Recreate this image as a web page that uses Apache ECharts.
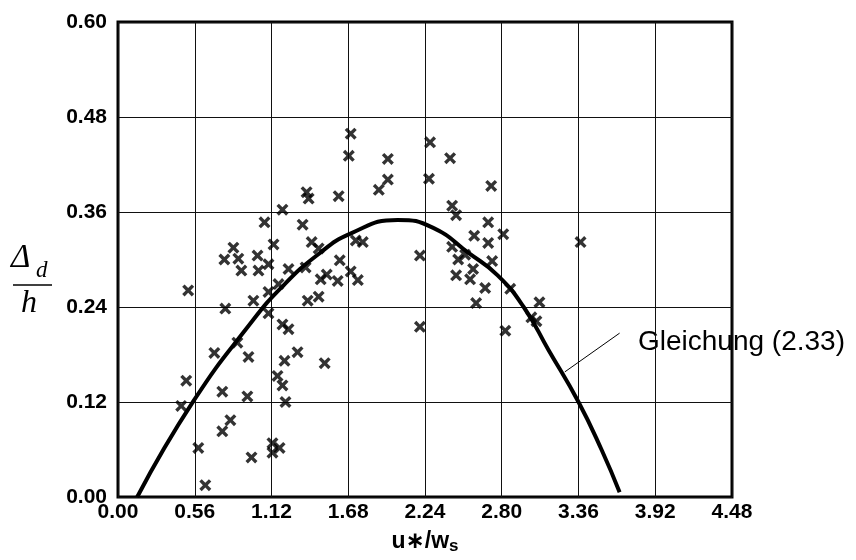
<!DOCTYPE html>
<html>
<head>
<meta charset="utf-8">
<script src="https://cdn.jsdelivr.net/npm/echarts@6/dist/echarts.min.js"></script>
<style>
html,body{margin:0;padding:0;background:#fff;}
#chart{width:856px;height:560px;}
</style>
</head>
<body>
<div id="chart"></div>
<script>
// Tick labels
var xTickLabels = ['0.00','0.56','1.12','1.68','2.24','2.80','3.36','3.92','4.48'];
var yTickLabels = ['0.00','0.12','0.24','0.36','0.48','0.60'];

// Measured points (u*/ws, Δd/h)
var pointsX = [0.637,0.586,0.974,1.127,1.179,1.127,0.761,0.820,0.461,1.222,0.944,0.761,0.498,1.164,1.200,0.703,0.952,0.871,1.310,1.215,1.508,1.098,1.200,1.244,0.783,0.988,0.512,1.098,1.171,1.384,1.464,1.479,1.523,1.603,1.698,1.750,1.618,1.025,1.098,1.244,1.369,0.900,0.776,0.878,0.842,1.018,1.135,1.069,1.200,1.347,1.413,1.464,1.735,1.786,1.376,1.391,1.610,1.698,1.684,1.969,1.969,1.903,2.277,2.423,2.269,2.723,2.438,2.467,2.203,2.203,2.599,2.701,2.701,2.811,2.438,2.482,2.533,2.591,2.467,2.569,2.679,2.613,2.730,2.862,3.075,3.016,3.053,2.826,3.375];
var pointsY = [0.015,0.062,0.050,0.068,0.062,0.056,0.083,0.097,0.115,0.120,0.127,0.133,0.147,0.153,0.141,0.182,0.177,0.195,0.183,0.172,0.169,0.232,0.218,0.212,0.238,0.248,0.261,0.259,0.269,0.248,0.253,0.275,0.281,0.273,0.285,0.274,0.299,0.286,0.294,0.288,0.290,0.286,0.300,0.301,0.315,0.305,0.319,0.347,0.363,0.344,0.322,0.314,0.324,0.322,0.385,0.377,0.380,0.459,0.431,0.427,0.401,0.388,0.448,0.428,0.402,0.393,0.368,0.356,0.305,0.215,0.330,0.347,0.321,0.332,0.316,0.300,0.306,0.288,0.280,0.275,0.264,0.245,0.298,0.263,0.246,0.227,0.222,0.210,0.322];

// Curve "Gleichung (2.33)"
var curveX = [0.14,0.55,0.97,1.20,1.45,1.70,2.04,2.30,2.56,2.77,2.96,3.14,3.36,3.53,3.66];
var curveY = [0.000,0.121,0.220,0.266,0.305,0.333,0.350,0.340,0.308,0.280,0.240,0.186,0.120,0.059,0.006];

// Leader line of the annotation
var leaderX = [3.26, 3.66];
var leaderY = [0.158, 0.207];
var annotationText = 'Gleichung (2.33)';

var scatterData = pointsX.map(function(x,i){return [x, pointsY[i]];});
var curveData = curveX.map(function(x,i){return [x, curveY[i]];});

var crossPath = 'path://M0,2L2,0L5,3L8,0L10,2L7,5L10,8L8,10L5,7L2,10L0,8L3,5Z';
var tickFont = {fontFamily:'Liberation Sans, Arial, sans-serif', fontSize:21, fontWeight:'bold', color:'#000'};

var chart = echarts.init(document.getElementById('chart'), null, {renderer:'canvas'});
var xStep = parseFloat(xTickLabels[1]) - parseFloat(xTickLabels[0]);
var yStep = parseFloat(yTickLabels[1]) - parseFloat(yTickLabels[0]);

chart.setOption({
  animation:false,
  backgroundColor:'#fff',
  grid:{left:118,right:124,top:22,bottom:56,show:true,borderColor:'#000',borderWidth:3,backgroundColor:'transparent'},
  xAxis:{
    type:'value',
    min:parseFloat(xTickLabels[0]), max:parseFloat(xTickLabels[xTickLabels.length-1]), interval:xStep,
    axisLine:{show:false}, axisTick:{show:false},
    splitLine:{show:true,lineStyle:{color:'#111',width:1}},
    axisLabel:Object.assign({margin:5,formatter:function(v){return v.toFixed(2);}}, tickFont),
    name:'{a|u∗/w}{s|s}', nameLocation:'middle', nameGap:31,
    nameTextStyle:{rich:{
      a:{fontFamily:'Liberation Sans, DejaVu Sans, sans-serif',fontSize:23,fontWeight:'bold',color:'#000'},
      s:{fontFamily:'Liberation Sans, DejaVu Sans, sans-serif',fontSize:17,fontWeight:'bold',color:'#000',padding:[10,0,0,0]}
    }}
  },
  yAxis:{
    type:'value',
    min:parseFloat(yTickLabels[0]), max:parseFloat(yTickLabels[yTickLabels.length-1]), interval:yStep,
    axisLine:{show:false}, axisTick:{show:false},
    splitLine:{show:true,lineStyle:{color:'#111',width:1}},
    axisLabel:Object.assign({margin:11,formatter:function(v){return v.toFixed(2);}}, tickFont)
  },
  series:[
    {
      type:'line', data:curveData, smooth:0.5, showSymbol:false, symbol:'none',
      lineStyle:{color:'#000',width:4}, z:3,
      markLine:{
        silent:true, symbol:['none','none'],
        lineStyle:{color:'#000',width:1,type:'solid'},
        label:{show:false},
        data:[[{coord:[leaderX[0],leaderY[0]]},{coord:[leaderX[1],leaderY[1]]}]]
      }
    },
    {
      type:'scatter', data:scatterData, symbol:crossPath, symbolSize:12,
      itemStyle:{color:'#000'}, z:4
    }
  ],
  graphic:[
    {type:'text', left:638, top:328, style:{text:annotationText, font:'28px "Liberation Sans", Arial, sans-serif', fill:'#000'}},
    {type:'text', left:11, top:242, style:{text:'Δ', font:'italic 33px "Liberation Serif", "Times New Roman", serif', fill:'#000'}},
    {type:'text', left:36, top:259, style:{text:'d', font:'italic 23px "Liberation Serif", "Times New Roman", serif', fill:'#000'}},
    {type:'line', shape:{x1:13,y1:285,x2:52,y2:285}, style:{stroke:'#000',lineWidth:1.5}},
    {type:'text', left:21, top:288, style:{text:'h', font:'italic 32px "Liberation Serif", "Times New Roman", serif', fill:'#000'}}
  ]
});
</script>
</body>
</html>
